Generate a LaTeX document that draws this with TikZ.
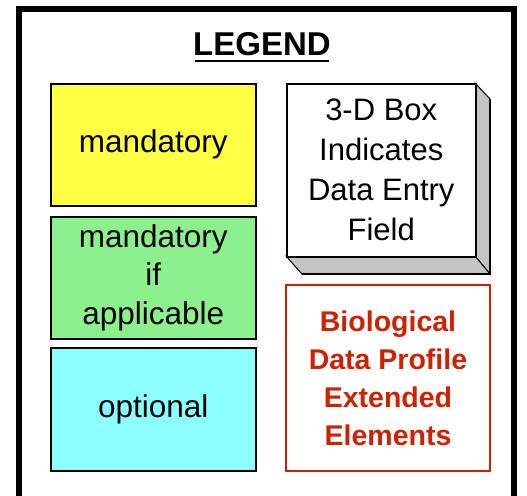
\documentclass[tikz,border=0pt]{standalone}
\usepackage{fontspec}
\setmainfont{Liberation Sans}
\definecolor{yel}{HTML}{FFFF44}
\definecolor{grn}{HTML}{8CF08C}
\definecolor{cyn}{HTML}{8CFFFF}
\definecolor{redt}{HTML}{CC2200}
\definecolor{side}{HTML}{C4C4C4}
\begin{document}
\begin{tikzpicture}[x=1pt,y=1pt,
  legbox/.style={draw=black,line width=1.5pt,minimum width=205pt,minimum height=122pt,anchor=north west,inner sep=0pt,align=center,font=\fontsize{31.5}{38.5}\selectfont},
  redbox/.style={draw=redt,line width=2pt,minimum width=204pt,minimum height=186pt,anchor=north west,inner sep=0pt,align=center,text=redt,font=\bfseries\fontsize{28.5}{38}\selectfont}]
\useasboundingbox (0,0) rectangle (527,-495);
\fill[white] (0,0) rectangle (527,-495);
\begin{scope}
\clip (0,0) rectangle (527,-495);
\draw[line width=6pt] (19,-520) -- (19,-9) -- (514,-9) -- (514,-520);
\end{scope}
\node[font=\bfseries\fontsize{33}{36}\selectfont] (title) at (262,-44) {LEGEND};
\draw[line width=2pt] (195,-61) -- (329,-61);
\node[legbox,fill=yel] (mand) at (50,-83) {mandatory};
\node[legbox,fill=grn] (mandif) at (50,-216) {mandatory\\if\\applicable};
\node[legbox,fill=cyn,minimum height=123pt] (opt) at (50,-347) {optional};
% 3-D box
\fill[side,draw=black,line width=1pt] (475,-83) -- (490,-99) -- (490,-274) -- (475,-256) -- cycle;
\fill[side,draw=black,line width=1pt] (286,-256) -- (302,-274) -- (490,-274) -- (475,-256) -- cycle;
\draw[line width=2pt] (490,-99) -- (490,-274) -- (302,-274);
\node[legbox,fill=white,minimum width=189pt,minimum height=173pt,font=\fontsize{31}{40}\selectfont] (box3d) at (286,-83) {3-D Box\\Indicates\\Data Entry\\Field};
\node[redbox] (bio) at (285,-284) {Biological\\Data Profile\\Extended\\Elements};
\end{tikzpicture}
\end{document}
